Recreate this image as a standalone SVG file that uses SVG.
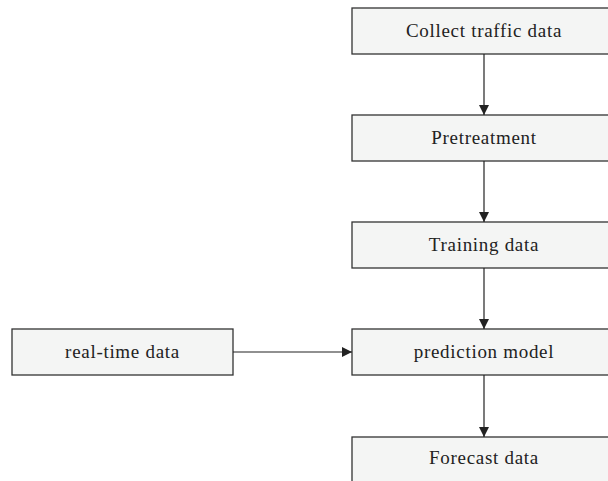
<svg xmlns="http://www.w3.org/2000/svg" width="608" height="481" viewBox="0 0 608 481">
<style>
.box{fill:#f4f5f4;stroke:#333;stroke-width:1.3}
.lbl{font-family:"Liberation Serif",serif;font-size:19px;letter-spacing:0.7px;fill:#222;text-anchor:middle}
.con{stroke:#222;stroke-width:1.2;fill:none}
</style>
<defs>
<marker id="ah" viewBox="0 0 10 10" refX="10" refY="5" markerWidth="10" markerHeight="10" markerUnits="userSpaceOnUse" orient="auto">
<path d="M0,0 L10,5 L0,10 z" fill="#222"/>
</marker>
</defs>
<rect width="608" height="481" fill="#fff"/>
<g id="collect"><rect class="box" x="352" y="8" width="270" height="46"/><text class="lbl" x="484" y="37">Collect traffic data</text></g>
<g id="pretreatment"><rect class="box" x="352" y="115" width="270" height="46"/><text class="lbl" x="484" y="144">Pretreatment</text></g>
<g id="training"><rect class="box" x="352" y="222" width="270" height="46"/><text class="lbl" x="484" y="251">Training data</text></g>
<g id="prediction"><rect class="box" x="352" y="329" width="270" height="46"/><text class="lbl" x="484" y="358">prediction model</text></g>
<g id="forecast"><rect class="box" x="352" y="437" width="270" height="60"/><text class="lbl" x="484" y="464">Forecast data</text></g>
<g id="realtime"><rect class="box" x="12" y="329" width="221" height="46"/><text class="lbl" x="122.5" y="358">real-time data</text></g>
<g id="connectors">
<line class="con" x1="484" y1="54" x2="484" y2="115" marker-end="url(#ah)"/>
<line class="con" x1="484" y1="161" x2="484" y2="222" marker-end="url(#ah)"/>
<line class="con" x1="484" y1="268" x2="484" y2="329" marker-end="url(#ah)"/>
<line class="con" x1="484" y1="375" x2="484" y2="437" marker-end="url(#ah)"/>
<line class="con" x1="233" y1="352" x2="352" y2="352" marker-end="url(#ah)"/>
</g>
</svg>
